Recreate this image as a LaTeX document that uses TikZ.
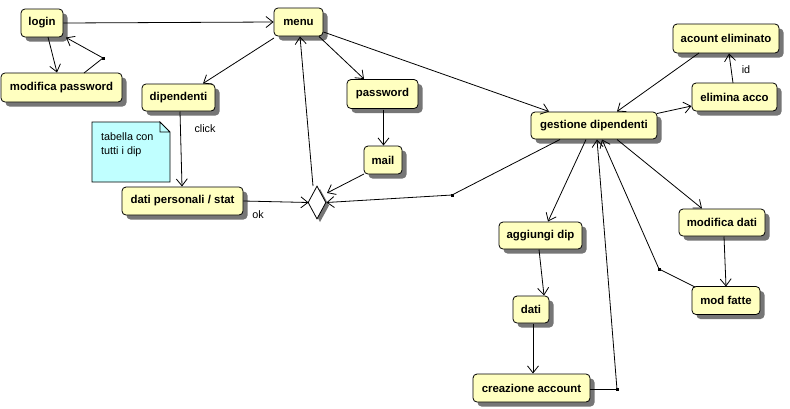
\documentclass[tikz,border=0pt]{standalone}
\usepackage{fontspec}
\setmainfont{Liberation Sans}
\usetikzlibrary{arrows.meta,shadows,shapes.geometric,shapes.misc}
\definecolor{stfill}{RGB}{255,255,192}
\definecolor{notefill}{RGB}{192,255,255}
\definecolor{shadowgray}{RGB}{118,118,118}
\begin{document}
\begin{tikzpicture}[x=1pt,y=-1pt,
  state/.style={draw=black,line width=0.8pt,fill=stfill,rounded corners=4pt,
    inner sep=0pt,font=\bfseries\fontsize{11.4}{13}\selectfont,
    general shadow={shadow xshift=4.5pt,shadow yshift=-4.5pt,fill=shadowgray}},
  conn/.style={line width=0.8pt,-{Straight Barb[length=7pt,width=11pt]}},
  seg/.style={line width=0.8pt},
  lbl/.style={font=\fontsize{10.8}{13}\selectfont,inner sep=0pt},
  bendpt/.style={fill=black,inner sep=0pt,minimum size=3pt}]
\useasboundingbox[fill=white] (0,0) rectangle (790,408);

% activity states
\node[state,minimum width=42pt,minimum height=28pt] (login) at (42,23) {login};
\node[state,minimum width=121pt,minimum height=29pt] (modpw) at (61.5,87.5) {modifica password};
\node[state,minimum width=49pt,minimum height=28pt] (menu) at (298.5,22) {menu};
\node[state,minimum width=73pt,minimum height=27pt] (dip) at (178.5,97.5) {dipendenti};
\node[state,minimum width=71pt,minimum height=29pt] (pw) at (382.5,94) {password};
\node[state,minimum width=38pt,minimum height=28pt] (mail) at (383,160) {mail};
\node[state,minimum width=121pt,minimum height=28pt] (datiper) at (182.5,201) {dati personali / stat};
\node[state,minimum width=126pt,minimum height=27pt] (gest) at (594,125.5) {gestione dipendenti};
\node[state,minimum width=106pt,minimum height=29pt] (acel) at (726,38.5) {acount eliminato};
\node[state,minimum width=85pt,minimum height=28pt] (elim) at (734.5,97) {elimina acco};
\node[state,minimum width=83pt,minimum height=27pt] (agg) at (540.5,235.5) {aggiungi dip};
\node[state,minimum width=36pt,minimum height=27pt] (dati) at (531,309.5) {dati};
\node[state,minimum width=117pt,minimum height=28pt] (crea) at (531.5,388) {creazione account};
\node[state,minimum width=86pt,minimum height=27pt] (moddati) at (722,222.5) {modifica dati};
\node[state,minimum width=68pt,minimum height=28pt] (modfatte) at (726,300.5) {mod fatte};

% note with folded corner
\fill[notefill] (92,122) -- (160,122) -- (170,132) -- (170,182) -- (92,182) -- cycle;
\draw[line width=0.8pt] (160,122) -- (92,122) -- (92,182) -- (170,182) -- (170,132) -- (160,122) -- (160,132) -- (170,132);
\node[lbl,anchor=north west,align=left] (note) at (101,132) {tabella con\\[1pt]tutti i dip};

% decision diamond
\fill[shadowgray] (320,189) -- (329,205.5) -- (320,222) -- (311,205.5) -- cycle;
\node[draw=black,line width=0.8pt,fill=white,diamond,inner sep=0pt,
  minimum width=18pt,minimum height=33pt] (dec) at (317,202.5) {};

% bend points
\node[bendpt] (b1) at (103,58) {};
\node[bendpt] (b2) at (452,195) {};
\node[bendpt] (b3) at (617,389.5) {};
\node[bendpt] (b4) at (659,269) {};

% transitions
\draw[conn] (login.east) -- (menu.west);
\draw[conn] (48,37) -- (57,72.5);
\draw[seg] (84,73) -- (b1.center);
\draw[conn] (b1.center) -- (66,37.5);
\draw[conn] (274,38) -- (203,83.5);
\draw[conn] (319,36.5) -- (364,79);
\draw[conn] (323.5,32) -- (549,111.5);
\draw[conn] (313,186) -- (300,36.5);
\draw[conn] (180,111.5) -- (182,186.5);
\node[lbl] (click) at (205,129) {click};
\draw[conn] (datiper.east) -- (308.5,202.5);
\node[lbl] (ok) at (258,215) {ok};
\draw[conn] (383.5,109.5) -- (383.5,145.5);
\draw[conn] (364,174) -- (327,193);
\draw[seg] (560,139.5) -- (b2.center);
\draw[conn] (b2.center) -- (326.5,202.5);
\draw[conn] (586,139.5) -- (548,221.5);
\draw[seg] (590,389.5) -- (b3.center);
\draw[conn] (b3.center) -- (597,139.5);
\draw[seg] (695,287) -- (b4.center);
\draw[conn] (b4.center) -- (602,139.5);
\draw[conn] (617,139.5) -- (702,208.5);
\draw[conn] (724,236.5) -- (726,286.5);
\draw[conn] (539,249.5) -- (544,295.5);
\draw[conn] (533,323.5) -- (533,373.5);
\draw[conn] (657,113.5) -- (691.5,106);
\draw[conn] (699,53) -- (617,111.5);
\draw[conn] (733,83) -- (729,53.5);
\node[lbl] (id) at (746,70) {id};
\end{tikzpicture}
\end{document}
